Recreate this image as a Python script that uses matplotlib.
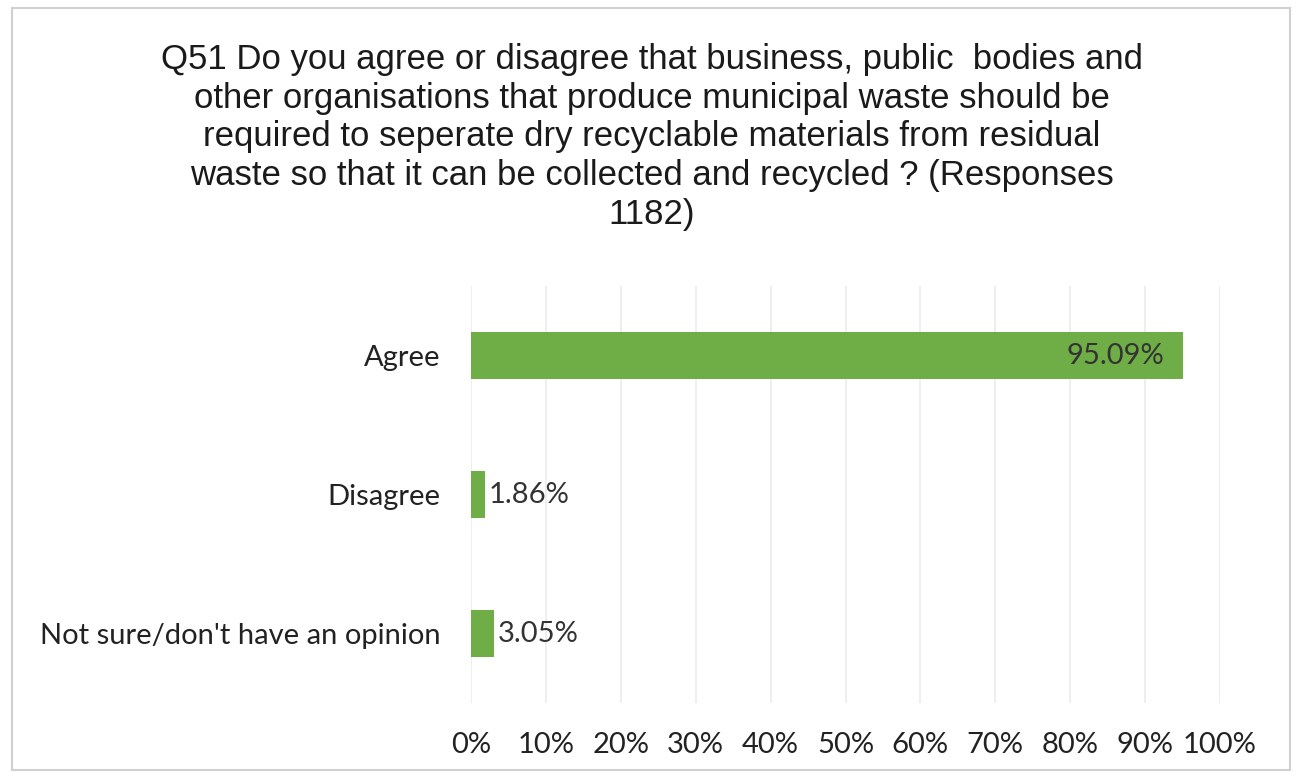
import matplotlib
matplotlib.use("Agg")
import matplotlib.pyplot as plt
from matplotlib.patches import Rectangle

categories = ["Agree", "Disagree", "Not sure/don't have an opinion"]
values = [95.09, 1.86, 3.05]
tick_values = [0, 10, 20, 30, 40, 50, 60, 70, 80, 90, 100]
tick_labels = [f"{v}%" for v in tick_values]
title = ("Q51 Do you agree or disagree that business, public  bodies and\n"
         "other organisations that produce municipal waste should be\n"
         "required to seperate dry recyclable materials from residual\n"
         "waste so that it can be collected and recycled ? (Responses\n"
         "1182)")

W, H = 1299, 778
fig = plt.figure(figsize=(W / 100, H / 100), dpi=100)
fig.patch.set_facecolor("white")

# outer chart frame
fig.add_artist(Rectangle((12 / W, 1 - 770 / H), (1290 - 12) / W, (770 - 8) / H,
                         transform=fig.transFigure, fill=False,
                         edgecolor="#d0d0d0", linewidth=1.5))

fig.text(652 / W, 1 - 43 / H, title, ha="center", va="top",
         fontsize=25, family="Liberation Sans", color="#1a1a1a",
         linespacing=1.22)

left, right = 471, 1220
top, bottom = 286, 703
ax = fig.add_axes([left / W, 1 - bottom / H, (right - left) / W, (bottom - top) / H])

y = list(range(len(categories)))
bar_color = "#6FAE46"
ax.barh(y, values, height=0.34, color=bar_color, zorder=3)

ax.set_xlim(0, 100)
ax.set_ylim(len(categories) - 0.5, -0.5)
ax.set_xticks(tick_values)
ax.set_xticklabels(tick_labels)
ax.set_yticks(y)
ax.set_yticklabels(categories)
ax.tick_params(axis="both", length=0, labelsize=21, colors="#222222")
ax.tick_params(axis="x", pad=21)
ax.tick_params(axis="y", pad=22)
for lbl in ax.get_xticklabels() + ax.get_yticklabels():
    lbl.set_family("Lato")

ax.grid(axis="x", color="#ebebeb", linewidth=1.2, zorder=0)
for s in ax.spines.values():
    s.set_visible(False)

for yi, v in zip(y, values):
    if v > 50:
        ax.annotate(f"{v:.2f}%", (v, yi), xytext=(-14, 0), textcoords="offset points",
                    ha="right", va="center", fontsize=21, family="Lato", color="#333333",
                    zorder=4)
    else:
        ax.annotate(f"{v:.2f}%", (v, yi), xytext=(3, 0), textcoords="offset points",
                    ha="left", va="center", fontsize=21, family="Lato", color="#333333",
                    zorder=4)

fig.savefig("out.png", dpi=100)
